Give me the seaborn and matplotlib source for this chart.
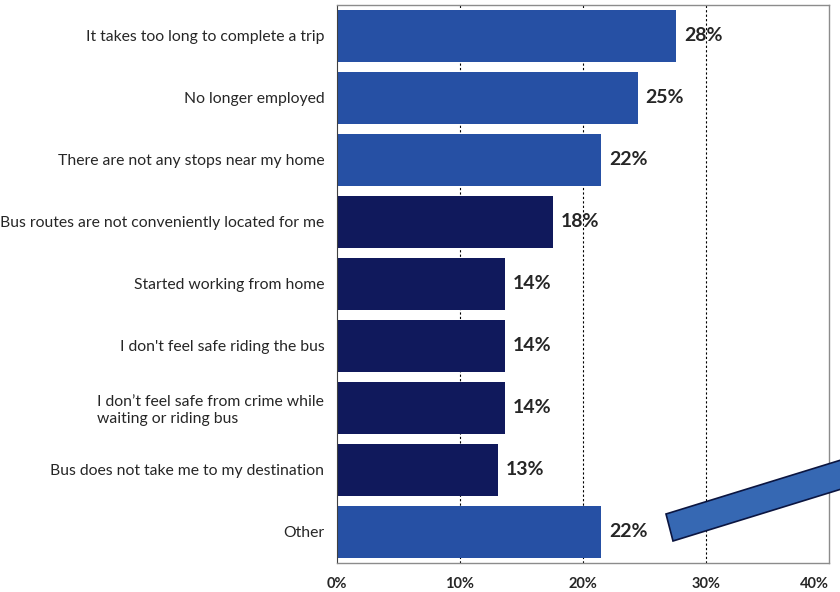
import matplotlib
matplotlib.use("Agg")
import matplotlib.pyplot as plt
import seaborn as sns
import pandas as pd
from matplotlib.patches import Polygon

# Data
reasons = [
    "It takes too long to complete a trip",
    "No longer employed",
    "There are not any stops near my home",
    "Bus routes are not conveniently located for me",
    "Started working from home",
    "I don't feel safe riding the bus",
    "I don\u2019t feel safe from crime while\nwaiting or riding bus",
    "Bus does not take me to my destination",
    "Other",
]
shares = [27.6, 24.5, 21.5, 17.6, 13.7, 13.7, 13.7, 13.1, 21.5]
labels = ["28%", "25%", "22%", "18%", "14%", "14%", "14%", "13%", "22%"]
highlight = [True, True, True, False, False, False, False, False, True]

df = pd.DataFrame({"reason": reasons, "share": shares, "highlight": highlight})

sns.set_style("white")
plt.rcParams["font.family"] = ["Lato", "DejaVu Sans"]

light_blue = "#2650a4"
navy = "#10195c"
bar_colors = [light_blue if h else navy for h in highlight]

fig = plt.figure(figsize=(8.4, 5.92), dpi=100)
ax = fig.add_axes([0.401, 0.049, 0.586, 0.943])

sns.barplot(data=df, y="reason", x="share", hue="reason", palette=bar_colors,
            legend=False, width=0.84, ax=ax, orient="h", saturation=1,
            linewidth=0)

ax.set_xlim(0, 40)
ax.set_xticks([0, 10, 20, 30, 40])
ax.set_xticklabels(["0%", "10%", "20%", "30%", "40%"], fontweight="bold", fontsize=10.5)
ax.set_xlabel("")
ax.set_ylabel("")
ax.tick_params(axis="x", length=0, pad=10)
ax.tick_params(axis="y", length=0, pad=9)
for t in ax.get_yticklabels():
    t.set_fontsize(11.3)
    t.set_multialignment("left")
ax.get_xticklabels()[-1].set_horizontalalignment("right")
ax.get_xticklabels()[-1].set_x(40.9)

for x in [10, 20, 30]:
    ax.axvline(x, color="black", linestyle=(0, (2, 2)), linewidth=0.8, zorder=0)

for spine in ["top", "right", "bottom"]:
    ax.spines[spine].set_color("#8c8c8c")
    ax.spines[spine].set_linewidth(1.0)
ax.spines["left"].set_color("#404040")

for i, (v, lab) in enumerate(zip(shares, labels)):
    ax.text(v + 0.6, i, lab, va="center", ha="left", fontsize=14, fontweight="bold")

# decorative arrow bar in the lower right
arrow_pts = [(x, 592 - y) for x, y in [(666, 514), (673, 541), (848, 487), (841, 460)]]
arrow = Polygon(arrow_pts, closed=True, transform=None,
                facecolor="#3668b3", edgecolor="#0b1540", linewidth=1.2)
fig.patches.append(arrow)

fig.savefig("out.png", dpi=100)
